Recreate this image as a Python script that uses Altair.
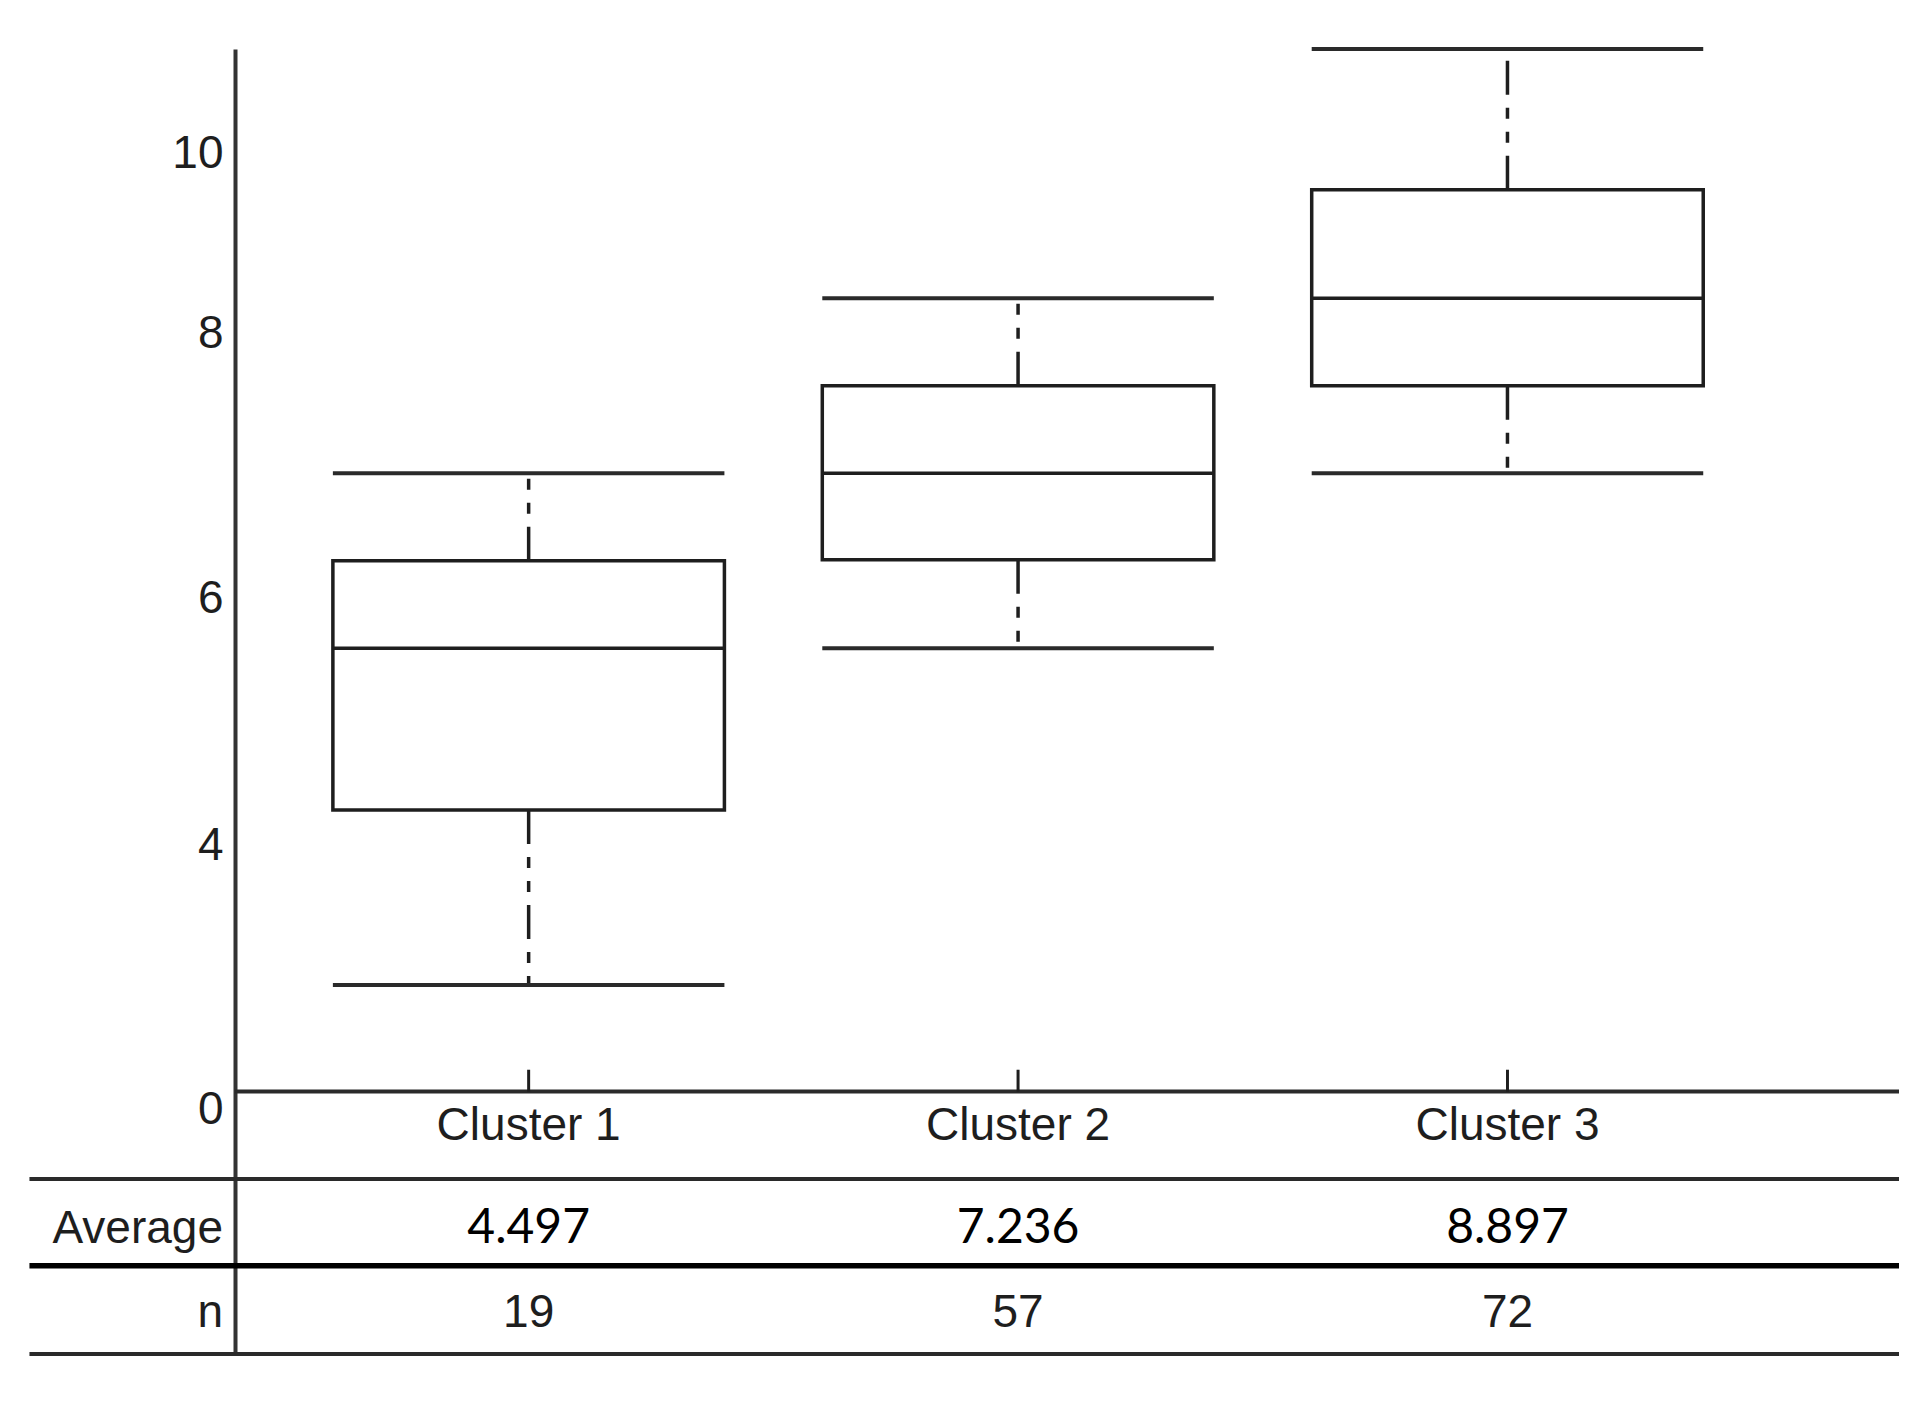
import altair as alt
import pandas as pd

# ---- data ----
clusters = ["Cluster 1", "Cluster 2", "Cluster 3"]
lower_whisker = [1.22, 5.07, 7.07]
q1 = [3.22, 6.08, 8.07]
median = [5.07, 7.07, 9.07]
q3 = [6.07, 8.07, 10.31]
upper_whisker = [7.07, 9.07, 11.92]
averages = [4.497, 7.236, 8.897]
counts = [19, 57, 72]

# y-axis tick labels and where they sit on the value scale in the picture
y_tick_labels = ["0", "4", "6", "8", "10"]
y_tick_at = [-0.21, 2.81, 5.64, 8.67, 10.72]

df = pd.DataFrame({
    "idx": [1, 2, 3],
    "cluster": clusters,
    "lo": lower_whisker,
    "q1": q1,
    "med": median,
    "q3": q3,
    "hi": upper_whisker,
    "avg": averages,
    "n": counts,
})

SANS = "Liberation Sans Narrow, Arial Narrow, Liberation Sans, Arial"
NUMFONT = "Lato, Open Sans, Noto Sans"
INK = "#1e1e1e"
FS = 46

xscale = alt.Scale(domain=[0.4, 3.8], nice=False, zero=False)
yscale = alt.Scale(domain=[-3.0, 11.92], nice=False, zero=False)

label_expr = "{}[indexof({}, datum.value)]".format(
    "[" + ",".join("'%s'" % s for s in y_tick_labels) + "]",
    "[" + ",".join(str(v) for v in y_tick_at) + "]",
)

yaxis = alt.Axis(
    values=y_tick_at, labelExpr=label_expr, ticks=False, grid=False,
    domain=True, domainColor="#333333", domainWidth=4, title=None,
    labelFont=SANS, labelFontSize=FS, labelColor=INK, labelPadding=12,
    labelFlush=False, labelOverlap=False, labelBaseline="middle",
)

base = alt.Chart(df).transform_calculate(
    left="datum.idx - 0.4", right="datum.idx + 0.4"
)


def X(f):
    return alt.X(f, type="quantitative", scale=xscale, axis=None)


def Y(f):
    return alt.Y(f, type="quantitative", scale=yscale, axis=yaxis)


def YD(v):
    return alt.YDatum(v, scale=yscale, axis=yaxis)


dash = [34, 13, 11, 13, 11, 13]

whisk_up = base.mark_rule(strokeDash=dash, strokeWidth=3.5, color=INK).encode(
    x=X("idx"), y=Y("q3"), y2="hi")
whisk_lo = base.mark_rule(strokeDash=dash, strokeWidth=3.5, color=INK).encode(
    x=X("idx"), y=Y("q1"), y2="lo")
cap_up = base.mark_rule(strokeWidth=4, color="#2a2a2a").encode(
    x=X("left"), x2="right", y=Y("hi"))
cap_lo = base.mark_rule(strokeWidth=4, color="#2a2a2a").encode(
    x=X("left"), x2="right", y=Y("lo"))
box = base.mark_rect(fill="white", stroke=INK, strokeWidth=3.5).encode(
    x=X("left"), x2="right", y=Y("q1"), y2="q3")
med = base.mark_rule(strokeWidth=3.5, color=INK).encode(
    x=X("left"), x2="right", y=Y("med"))

# table / baseline lines (layout)
lines = pd.DataFrame({
    "x0": [0.4, -0.02, -0.02, -0.02],
    "y": [0.0, -1.0, -1.99, -3.0],
    "w": [4.0, 4.0, 5.5, 4.0],
    "c": ["#2a2a2a", "#2a2a2a", "#000000", "#2a2a2a"],
})
hlines = alt.Chart(lines).mark_rule().encode(
    x=alt.X("x0:Q", scale=xscale, axis=None),
    x2=alt.datum(3.8),
    y=alt.Y("y:Q", scale=yscale, axis=yaxis),
    strokeWidth=alt.StrokeWidth("w:Q", scale=None, legend=None),
    color=alt.Color("c:N", scale=None, legend=None),
)

xticks = base.mark_rule(strokeWidth=3, color=INK).encode(
    x=X("idx"), y=Y("y0"), y2="y1"
).transform_calculate(y0="0", y1="0.25")

cluster_text = base.mark_text(font=SANS, fontSize=FS, color=INK,
                              baseline="middle", align="center").encode(
    x=X("idx"), y=YD(-0.39), text="cluster:N")

avg_text = base.mark_text(font=NUMFONT, fontSize=48, color="#000000",
                          baseline="middle", align="center").encode(
    x=X("idx"), y=YD(-1.57), text=alt.Text("avg:Q", format=".3f"))

n_text = base.mark_text(font=SANS, fontSize=FS, color=INK,
                        baseline="middle", align="center").encode(
    x=X("idx"), y=YD(-2.53), text="n:Q")

row_labels = pd.DataFrame({"label": ["Average", "n"], "row": [-1.57, -2.53]})
row_text = alt.Chart(row_labels).mark_text(
    font=SANS, fontSize=FS, color=INK, baseline="middle", align="right"
).encode(
    x=alt.value(-12),
    y=alt.Y("row:Q", scale=yscale, axis=yaxis),
    text="label:N",
)

chart = alt.layer(
    whisk_up, whisk_lo, cap_up, cap_lo, box, med,
    hlines, xticks, cluster_text, avg_text, n_text, row_text,
).properties(
    width=1664, height=1305,
    autosize=alt.AutoSizeParams(type="none"),
    padding={"left": 227, "top": 41, "right": 14, "bottom": 30},
    background="white",
).configure_view(stroke=None)

chart.save("out.html", embed_options={"renderer": "svg", "actions": False})
